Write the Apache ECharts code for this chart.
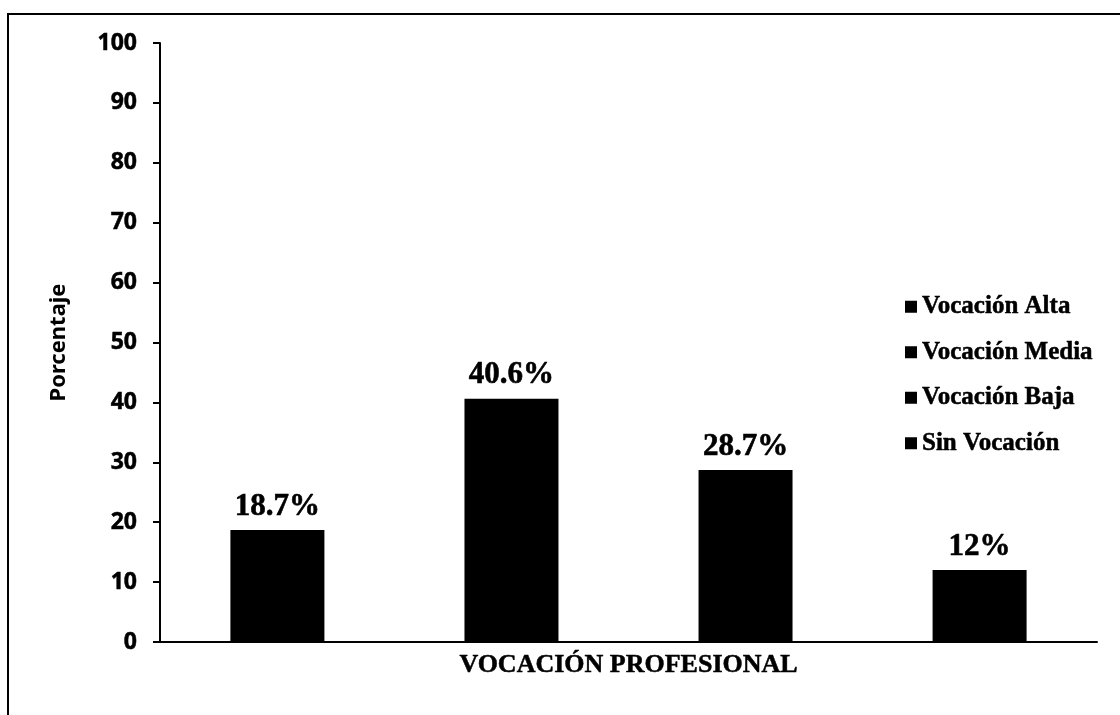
<!DOCTYPE html>
<html>
<head>
<meta charset="utf-8">
<script src="https://cdn.jsdelivr.net/npm/echarts@6/dist/echarts.min.js"></script>
<style>
	html, body { margin: 0; padding: 0; background: #fff; overflow: hidden; }
	#wrap { position: relative; width: 1120px; height: 715px; }
	#chart { width: 1120px; height: 715px; }
	#frame { position: absolute; left: 7px; top: 13px; width: 1200px; height: 800px;
		border-left: 2px solid #000; border-top: 2px solid #000; pointer-events: none; }
</style>
</head>
<body>
<div id="wrap">
	<div id="chart"></div>
	<div id="frame"></div>
</div>
<script>
// datos del grafico
var categorias = ['VOCACIÓN PROFESIONAL'];
var nombres = ['Vocación Alta', 'Vocación Media', 'Vocación Baja', 'Sin Vocación'];
var valores = [18.7, 40.6, 28.7, 12];
var ticksY = [0, 10, 20, 30, 40, 50, 60, 70, 80, 90, 100];

var serif = "'Liberation Serif', 'Times New Roman', serif";
var sans = "'Noto Sans', Tahoma, sans-serif";

var myChart = echarts.init(document.getElementById('chart'));

var series = [];
for (var i = 0; i < nombres.length; i++) {
	series.push({
		name : nombres[i],
		type : 'bar',
		data : [ valores[i] ],
		barWidth : 94,
		barGap : '149%',
		itemStyle : { color : '#000' },
		label : {
			show : true,
			position : 'top',
			distance : 8,
			formatter : '{c}%',
			color : '#000',
			fontFamily : serif,
			fontWeight : 'bold',
			fontSize : 31,
			textBorderColor : '#000',
			textBorderWidth : 0.6
		}
	});
}

var option = {
	backgroundColor : '#fff',
	animation : false,
	grid : {
		left : 160,
		right : 23,
		top : 43,
		bottom : 73
	},
	legend : {
		data : nombres,
		orient : 'vertical',
		left : 900,
		top : 289,
		itemWidth : 12,
		itemHeight : 12,
		itemGap : 20,
		icon : 'rect',
		textStyle : {
			color : '#000',
			fontFamily : serif,
			fontWeight : 'bold',
			fontSize : 25,
			textBorderColor : '#000',
			textBorderWidth : 0.5
		}
	},
	xAxis : {
		type : 'category',
		data : categorias,
		axisLine : { lineStyle : { color : '#000', width : 2 } },
		axisTick : { show : false },
		axisLabel : {
			margin : 10,
			color : '#000',
			fontFamily : serif,
			fontWeight : 'bold',
			fontSize : 26,
			textBorderColor : '#000',
			textBorderWidth : 0.5
		}
	},
	yAxis : {
		type : 'value',
		min : ticksY[0],
		max : ticksY[ticksY.length - 1],
		interval : 10,
		name : 'Porcentaje',
		nameLocation : 'middle',
		nameGap : 90,
		nameTextStyle : {
			color : '#000',
			fontFamily : sans,
			fontWeight : 'bold',
			fontSize : 22
		},
		axisLine : { show : true, lineStyle : { color : '#000', width : 2 } },
		axisTick : { show : true, length : 7, lineStyle : { color : '#000', width : 2 } },
		splitLine : { show : false },
		axisLabel : {
			margin : 23,
			color : '#000',
			fontFamily : sans,
			fontWeight : 'bold',
			fontSize : 23,
			textBorderColor : '#000',
			textBorderWidth : 0.5
		}
	},
	series : series
};

myChart.setOption(option, true);
</script>
</body>
</html>
